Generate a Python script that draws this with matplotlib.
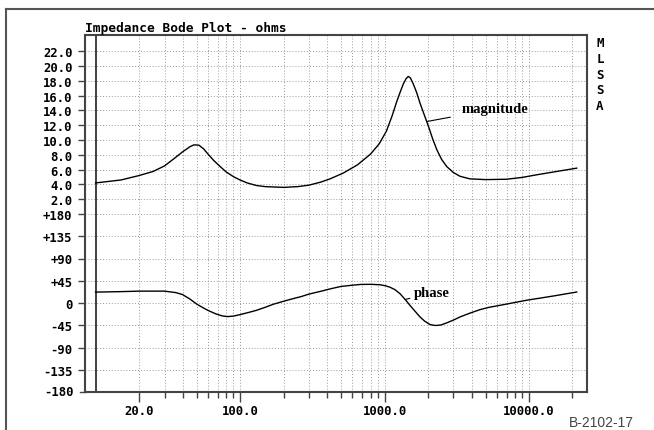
import matplotlib.pyplot as plt
from matplotlib.lines import Line2D
from matplotlib.ticker import FixedLocator, NullFormatter

# values
mag_freq = [10, 15, 20, 25, 30, 35, 40, 45, 48, 52, 56, 60, 66, 73, 80, 90, 100, 112,
            130, 150, 200, 250, 300, 360, 420, 520, 650, 800, 920, 1030, 1130, 1210,
            1290, 1350, 1410, 1460, 1510, 1580, 1670, 1760, 1860, 2010, 2150, 2300,
            2480, 2700, 3000, 3330, 3900, 5000, 7000, 9000, 11300, 15000, 21400]
mag_ohms = [4.2, 4.6, 5.2, 5.75, 6.5, 7.5, 8.4, 9.1, 9.35, 9.3, 8.8, 8.1, 7.2, 6.4,
            5.7, 5.05, 4.6, 4.2, 3.85, 3.7, 3.6, 3.7, 3.9, 4.3, 4.75, 5.55, 6.65, 8.1,
            9.5, 11.2, 13.3, 15.1, 16.6, 17.6, 18.3, 18.6, 18.4, 17.6, 16.4, 15.0,
            13.7, 11.9, 10.2, 8.7, 7.4, 6.4, 5.6, 5.1, 4.75, 4.65, 4.7, 4.95, 5.3,
            5.7, 6.2]

ph_freq = [10, 15, 20, 30, 36, 40, 45, 50, 55, 60, 68, 75, 82, 90, 100, 115, 130, 150,
           170, 200, 232, 265, 300, 360, 420, 500, 600, 680, 800, 930, 1010, 1090,
           1180, 1280, 1390, 1500, 1630, 1760, 1900, 2070, 2250, 2450, 2690, 3000,
           3330, 3900, 4580, 5300, 6300, 7800, 9550, 12000, 14700, 18000, 21400]
ph_deg = [22, 23, 24, 24, 21, 17, 8, -2, -9, -15, -22, -26, -27.5, -26.5, -23.5, -19,
          -14.8, -8.5, -2.5, 3.5, 8.7, 13, 18, 23.5, 28.5, 33.5, 36, 37.5, 37.8, 36.9,
          35, 32, 27, 18.8, 7, -4.7, -17, -28.2, -37, -43.7, -45.5, -44.5, -40.3,
          -34.5, -28.2, -20.5, -13.4, -8.7, -4.7, 0.5, 5.4, 10, 14.1, 18.5, 22.2]

mag_ticks = [2, 4, 6, 8, 10, 12, 14, 16, 18, 20, 22]
ph_ticks = [-135, -90, -45, 0, 45, 90, 135, 180]
ph_labels = ["-135", "-90", "-45", "0", "+45", "+90", "+135", "+180"]
x_major = [20, 100, 1000, 10000]
x_labels = ["20.0", "100.0", "1000.0", "10000.0"]
x_minor = [30, 40, 50, 60, 70, 80, 90, 200, 300, 400, 500, 600, 700, 800, 900,
           2000, 3000, 4000, 5000, 6000, 7000, 8000, 9000, 20000]

W, H = 654, 431
FRAME = "#444444"
GRID = "#9a9a9a"
MONO = "DejaVu Sans Mono"
TICK_SIZE = 8.8


def fx(px):
    return px / W


def fy(py):
    return 1 - py / H


fig = plt.figure(figsize=(W / 100, H / 100), dpi=100)

left, right, top, mid, bottom = fx(85), fx(587), fy(36), fy(215), fy(393)
ax_mag = fig.add_axes([left, mid, right - left, top - mid])
ax_ph = fig.add_axes([left, bottom, right - left, mid - bottom])

for ax in (ax_mag, ax_ph):
    ax.set_xscale("log")
    ax.set_xlim(8.45, 25200)
    ax.xaxis.set_major_locator(FixedLocator(x_major))
    ax.xaxis.set_minor_locator(FixedLocator(x_minor))
    ax.xaxis.set_minor_formatter(NullFormatter())
    ax.grid(True, which="both", color=GRID, linestyle=(0, (1, 2)), linewidth=0.7)
    ax.axvline(10, color="#333333", lw=1.3)
    for sp in ax.spines.values():
        sp.set_color(FRAME)
        sp.set_linewidth(1.5)
    ax.tick_params(axis="y", direction="out", length=5, width=1, color=FRAME, pad=4)

ax_mag.spines["bottom"].set_visible(False)
ax_ph.spines["top"].set_visible(False)

ax_mag.plot(mag_freq, mag_ohms, color="black", lw=1.0)
ax_mag.set_ylim(0, 24.2)
ax_mag.set_yticks(mag_ticks)
ax_mag.set_yticklabels([f"{v:.1f}" for v in mag_ticks])
ax_mag.tick_params(axis="x", which="both", length=0, labelbottom=False)

ax_ph.plot(ph_freq, ph_deg, color="black", lw=1.0)
ax_ph.set_ylim(-180, 180)
ax_ph.set_yticks(ph_ticks)
ax_ph.set_yticklabels(ph_labels)
ax_ph.set_xticklabels(x_labels)
ax_ph.tick_params(axis="x", which="major", direction="out", length=7, width=1, color=FRAME, pad=2)
ax_ph.tick_params(axis="x", which="minor", direction="out", length=4, width=1, color=FRAME)

# -180 sits on the bottom spine, label it by hand through the axis transform
ax_ph.text(-0.022, -180, "-180", transform=ax_ph.get_yaxis_transform(), ha="right",
           va="center", family=MONO, fontweight="bold", fontsize=TICK_SIZE)
ax_ph.plot([-0.01, 0], [-180, -180], transform=ax_ph.get_yaxis_transform(),
           color=FRAME, lw=1, clip_on=False)

for ax in (ax_mag, ax_ph):
    for lab in ax.get_yticklabels() + ax.get_xticklabels():
        lab.set_family(MONO)
        lab.set_fontweight("bold")
        lab.set_fontsize(TICK_SIZE)

ax_mag.set_title("Impedance Bode Plot - ohms", loc="left", family=MONO, fontsize=9.3,
                 fontweight="semibold", pad=3)

ax_mag.annotate("magnitude", xy=(1960, 12.5), xytext=(3400, 14.2), ha="left",
                va="center", family="Liberation Serif", fontweight="bold", fontsize=10.5,
                arrowprops=dict(arrowstyle="-", lw=0.8, color="black", shrinkA=6, shrinkB=0))
ax_ph.annotate("phase", xy=(1390, 7), xytext=(1600, 21), ha="left", va="center",
               family="Liberation Serif", fontweight="bold", fontsize=10.5,
               arrowprops=dict(arrowstyle="-", lw=0.8, color="black", shrinkA=1, shrinkB=0))

for i, ch in enumerate("MLSSA"):
    fig.text(fx(600), fy(44 + 15.6 * i), ch, ha="center", va="center", family=MONO,
             fontweight="bold", fontsize=9)

fig.text(fx(601), fy(423), "B-2102-17", ha="center", va="center",
         family="Liberation Sans", fontsize=10, color="#444444")

# outer frame: top and left edges only
fig.add_artist(Line2D([fx(6), 1], [fy(10), fy(10)], transform=fig.transFigure,
                      color="#555555", lw=1.5))
fig.add_artist(Line2D([fx(6), fx(6)], [fy(10), 0], transform=fig.transFigure,
                      color="#555555", lw=1.5))

fig.savefig("out.png", dpi=100)
